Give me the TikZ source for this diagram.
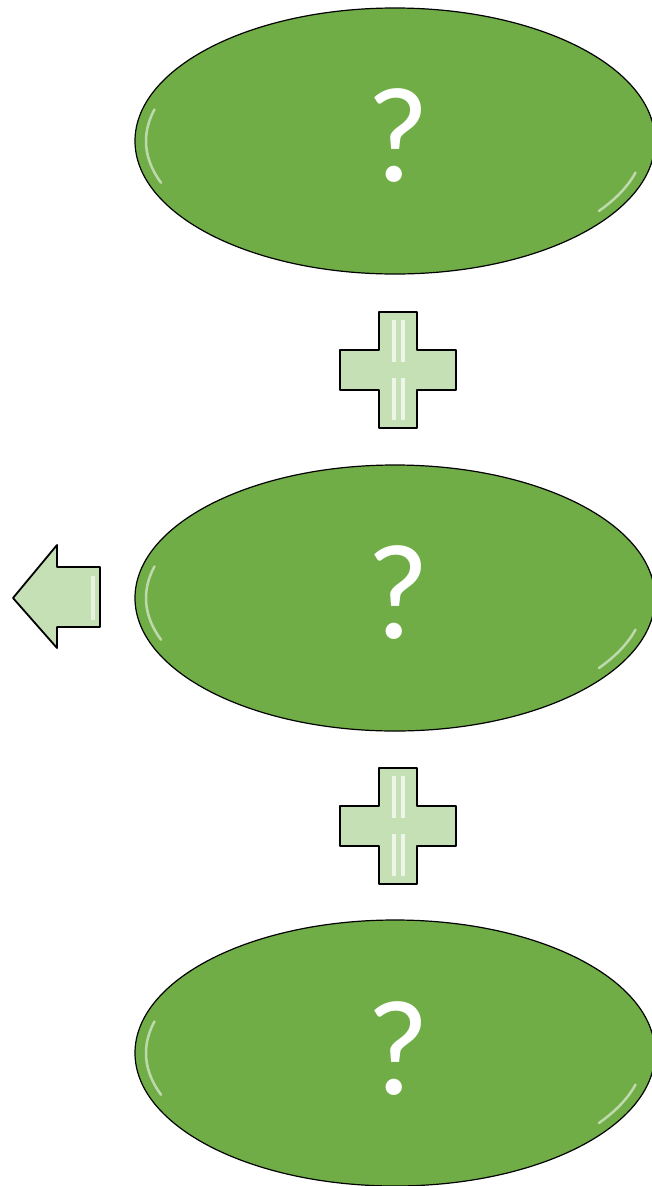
\documentclass[tikz,border=0pt]{standalone}
\usepackage{fontspec}
\setmainfont{Carlito}
\usetikzlibrary{shapes.geometric}
\definecolor{leafgreen}{HTML}{70AD47}
\definecolor{palegreen}{HTML}{C5E0B4}
\tikzset{
  oval/.style={ellipse, draw=black, line width=1.2pt, fill=leafgreen, minimum width=520pt, minimum height=266pt, inner sep=0pt},
  qmark/.style={text=white, font=\fontsize{136}{136}\selectfont, inner sep=0pt},
  plusshape/.style={draw=black, line width=1.8pt, fill=palegreen, line join=round},
  gloss/.style={white, opacity=0.55, line width=2.5pt, line cap=round},
}
\begin{document}
\begin{tikzpicture}[x=1pt,y=-1pt]
\useasboundingbox (0,0) rectangle (652,1186);
\clip (0,0) rectangle (652,1186);
% ovals
\node[oval] (o1) at (395,141) {};
\node[oval] (o2) at (395,598) {};
\node[oval] (o3) at (395,1053) {};
\node[qmark] (q1) at (398,136) {?};
\node[qmark] (q2) at (398,593) {?};
\node[qmark] (q3) at (398,1048) {?};
% glosses
\foreach \cy in {141,598,1053}{
  \draw[gloss] (395,\cy) ++(165:249pt and 122pt) arc[start angle=165, end angle=200, x radius=249pt, y radius=122pt];
  \draw[gloss] (395,\cy) ++(-15:249pt and 122pt) arc[start angle=-15, end angle=-35, x radius=249pt, y radius=122pt];
}
% plus signs
\foreach \name/\cy in {p1/370,p2/826}{
  \coordinate (\name) at (398,\cy);
  \draw[plusshape] (\name) ++(-19,-58) -- ++(38,0) -- ++(0,38) -- ++(39,0) -- ++(0,40) -- ++(-39,0) -- ++(0,38) -- ++(-38,0) -- ++(0,-38) -- ++(-39,0) -- ++(0,-40) -- ++(39,0) -- cycle;
  \fill[white, opacity=0.7] (\name) ++(-6,-50) rectangle ++(4,42);
  \fill[white, opacity=0.7] (\name) ++(3,-50) rectangle ++(4,42);
  \fill[white, opacity=0.7] (\name) ++(-6,8) rectangle ++(4,42);
  \fill[white, opacity=0.7] (\name) ++(3,8) rectangle ++(4,42);
}
% left arrow
\coordinate (arr) at (57,598);
\draw[plusshape] (arr) ++(-44,0) -- ++(44,-53) -- ++(0,22) -- ++(43,0) -- ++(0,60) -- ++(-43,0) -- ++(0,21) -- cycle;
\fill[white, opacity=0.6] (arr) ++(34,-22) rectangle ++(4,44);
\end{tikzpicture}
\end{document}
